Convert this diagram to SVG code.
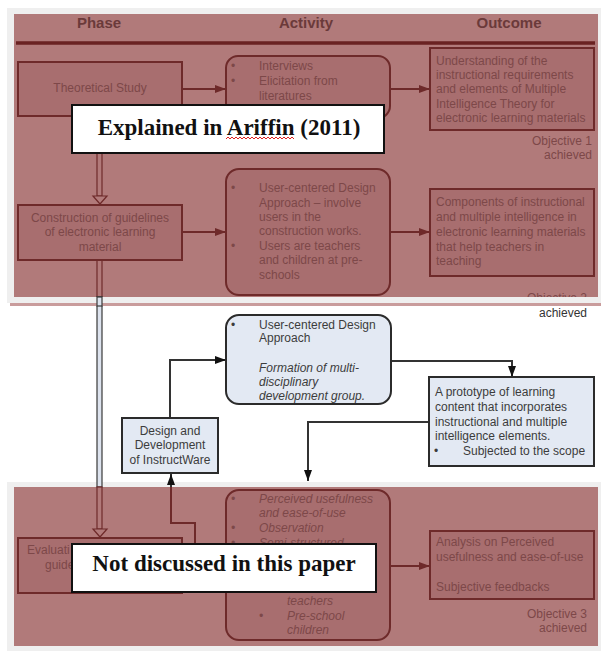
<svg xmlns="http://www.w3.org/2000/svg" width="601" height="651" viewBox="0 0 601 651">
<defs>
<style>
.band{fill:#b17a7a}
.gray{fill:#efefef}
.rbox{fill:#a86e6f;stroke:#6e2a2a;stroke-width:2}
.t{font-family:"Liberation Sans",Arial,sans-serif;font-size:12px;fill:#7d4849}
.ti{font-family:"Liberation Sans",Arial,sans-serif;font-size:12px;fill:#7d4849;font-style:italic}
.c{text-anchor:middle}
.r{text-anchor:end}
.hd{font-family:"Liberation Sans",Arial,sans-serif;font-size:15px;font-weight:bold;fill:#6b3a3a;text-anchor:middle}
.bbox{fill:#e3e9f3;stroke:#2b2b2b;stroke-width:2}
.bt{font-family:"Liberation Sans",Arial,sans-serif;font-size:12px;fill:#3c3c3c}
.bti{font-family:"Liberation Sans",Arial,sans-serif;font-size:12px;fill:#3c3c3c;font-style:italic}
.rc{fill:none;stroke:#6e2a2a;stroke-width:2}
.bc{fill:none;stroke:#333;stroke-width:2}
.ov{fill:#fff;stroke:#111;stroke-width:2}
.ot{font-family:"Liberation Serif","Times New Roman",serif;font-size:23px;font-weight:bold;fill:#111;text-anchor:middle}
</style>
<marker id="ar" markerUnits="userSpaceOnUse" markerWidth="12" markerHeight="10" refX="11" refY="5" orient="auto"><path d="M0,1 L11,5 L0,9 Z" fill="#6e2a2a"/></marker>
<marker id="ab" markerUnits="userSpaceOnUse" markerWidth="12" markerHeight="10" refX="11" refY="5" orient="auto"><path d="M0,1 L11,5 L0,9 Z" fill="#111"/></marker>
</defs>

<rect x="0" y="0" width="601" height="651" fill="#fff"/>
<rect class="gray" x="7" y="8" width="594" height="295"/>
<rect class="band" x="14" y="14" width="584" height="283"/>
<rect class="gray" x="7" y="482" width="594" height="169"/>
<rect class="band" x="14" y="487" width="584" height="159"/>

<g id="header">
<text class="hd" x="99" y="28">Phase</text>
<text class="hd" x="306" y="28">Activity</text>
<text class="hd" x="509" y="28">Outcome</text>
<line x1="16" y1="43" x2="595" y2="43" stroke="#6a2222" stroke-width="3.5"/>
</g>

<g id="connectors">
<rect x="97" y="116" width="5" height="80" fill="#b17a7a" stroke="#6e2a2a" stroke-width="1.2"/>
<polygon points="97,196 93,196 100,204 107,196 102,196" fill="#b17a7a" stroke="#6e2a2a" stroke-width="1.2"/>
<rect x="97" y="260" width="5" height="37" fill="#b17a7a" stroke="#6e2a2a" stroke-width="1.2"/>
<rect x="97" y="297" width="5" height="190" fill="#dde3ee" stroke="#3a3a3a" stroke-width="1.2"/>
<rect x="97" y="487" width="5" height="42" fill="#b17a7a" stroke="#6e2a2a" stroke-width="1.2"/>
<polygon points="97,529 93,529 100,537 107,529 102,529" fill="#b17a7a" stroke="#6e2a2a" stroke-width="1.2"/>
<path class="rc" d="M182,89 H226" marker-end="url(#ar)"/>
<path class="rc" d="M390,89 H430" marker-end="url(#ar)"/>
<path class="rc" d="M182,232 H226" marker-end="url(#ar)"/>
<path class="rc" d="M390,232 H430" marker-end="url(#ar)"/>
<path class="rc" d="M182,565 H226" marker-end="url(#ar)"/>
<path class="rc" d="M390,566 H430" marker-end="url(#ar)"/>
<path class="rc" d="M226,560 H195 V523 H171 V487"/>
<path class="bc" d="M171,487 V474" marker-end="url(#ab)"/>
<path class="bc" d="M170,418 V360 H226" marker-end="url(#ab)"/>
<path class="bc" d="M391,361 H512 V377" marker-end="url(#ab)"/>
<path class="bc" d="M429,422 H308 V481" marker-end="url(#ab)"/>
</g>

<g id="theoretical-study">
<rect class="rbox" x="18" y="62" width="164" height="54"/>
<text class="t c" x="100" y="92">Theoretical Study</text>
</g>

<g id="activity-1">
<rect class="rbox" x="226" y="56" width="164" height="62" rx="12"/>
<text class="t" x="231" y="70">•</text>
<text class="t" x="259" y="70">Interviews</text>
<text class="t" x="231" y="85">•</text>
<text class="t" x="259" y="85">Elicitation from</text>
<text class="t" x="259" y="100">literatures</text>
</g>

<g id="outcome-1">
<rect class="rbox" x="430" y="48" width="164" height="82"/>
<text class="t" x="436" y="65">Understanding of the</text>
<text class="t" x="436" y="79">instructional requirements</text>
<text class="t" x="436" y="93">and elements of Multiple</text>
<text class="t" x="436" y="108">Intelligence Theory for</text>
<text class="t" x="436" y="122">electronic learning materials</text>
<text class="t r" x="592" y="145">Objective 1</text>
<text class="t r" x="592" y="159">achieved</text>
</g>

<g id="construction">
<rect class="rbox" x="18" y="205" width="164" height="55"/>
<text class="t c" x="100" y="222">Construction of guidelines</text>
<text class="t c" x="100" y="236">of electronic learning</text>
<text class="t c" x="100" y="251">material</text>
</g>

<g id="activity-2">
<rect class="rbox" x="226" y="169" width="164" height="126" rx="13"/>
<text class="t" x="231" y="192">•</text>
<text class="t" x="259" y="192">User-centered Design</text>
<text class="t" x="259" y="207">Approach – involve</text>
<text class="t" x="259" y="221">users in the</text>
<text class="t" x="259" y="235">construction works.</text>
<text class="t" x="231" y="250">•</text>
<text class="t" x="259" y="250">Users are teachers</text>
<text class="t" x="259" y="264">and children at pre-</text>
<text class="t" x="259" y="279">schools</text>
</g>

<g id="outcome-2">
<rect class="rbox" x="430" y="189" width="164" height="87"/>
<text class="t" x="436" y="206">Components of instructional</text>
<text class="t" x="436" y="221">and multiple intelligence in</text>
<text class="t" x="436" y="236">electronic learning materials</text>
<text class="t" x="436" y="251">that help teachers in</text>
<text class="t" x="436" y="265">teaching</text>
<text class="t r" x="587" y="302">Objective 2</text>
</g>

<rect class="gray" x="7" y="297" width="594" height="6"/>
<rect x="10" y="303" width="591" height="3" fill="#c99c9c"/>
<rect x="97" y="297" width="5" height="9" fill="#dde3ee" stroke="#3a3a3a" stroke-width="1.2"/>
<text class="t r" x="587" y="317" style="fill:#333">achieved</text>

<g id="ucd-middle">
<rect class="bbox" x="226" y="315" width="165" height="89" rx="13"/>
<text class="bt" x="231" y="329">•</text>
<text class="bt" x="259" y="329">User-centered Design</text>
<text class="bt" x="259" y="342">Approach</text>
<text class="bti" x="259" y="372">Formation of multi-</text>
<text class="bti" x="259" y="386">disciplinary</text>
<text class="bti" x="259" y="400">development group.</text>
</g>

<g id="design-development">
<rect class="bbox" x="122" y="418" width="96" height="55"/>
<text class="bt c" x="170" y="435">Design and</text>
<text class="bt c" x="170" y="449">Development</text>
<text class="bt c" x="170" y="464">of InstructWare</text>
</g>

<g id="prototype">
<rect class="bbox" x="429" y="377" width="165" height="89"/>
<text class="bt" x="435" y="396">A prototype of learning</text>
<text class="bt" x="435" y="411">content that incorporates</text>
<text class="bt" x="435" y="426">instructional and multiple</text>
<text class="bt" x="435" y="440">intelligence elements.</text>
<text class="bt" x="434" y="455">•</text>
<text class="bt" x="463" y="455">Subjected to the scope</text>
</g>

<g id="evaluation">
<rect class="rbox" x="18" y="538" width="164" height="55"/>
<text class="t" x="27" y="554">Evaluati</text>
<text class="t" x="45" y="569">guide</text>
</g>

<g id="activity-3">
<rect class="rbox" x="226" y="490" width="164" height="150" rx="13"/>
<text class="ti" x="231" y="503">•</text>
<text class="ti" x="259" y="503">Perceived usefulness</text>
<text class="ti" x="259" y="517">and ease-of-use</text>
<text class="ti" x="231" y="532">•</text>
<text class="ti" x="259" y="532">Observation</text>
<text class="ti" x="231" y="547">•</text>
<text class="ti" x="259" y="547">Semi-structured</text>
<text class="ti" x="287" y="605">teachers</text>
<text class="ti" x="259" y="620">•</text>
<text class="ti" x="287" y="620">Pre-school</text>
<text class="ti" x="287" y="634">children</text>
</g>

<g id="outcome-3">
<rect class="rbox" x="430" y="531" width="164" height="68"/>
<text class="t" x="436" y="546">Analysis on Perceived</text>
<text class="t" x="436" y="561">usefulness and ease-of-use</text>
<text class="t" x="436" y="591">Subjective feedbacks</text>
<text class="t r" x="587" y="618">Objective 3</text>
<text class="t r" x="587" y="632">achieved</text>
</g>

<g id="note-top">
<rect class="ov" x="72" y="105" width="312" height="48"/>
<text class="ot" x="229" y="135">Explained in Ariffin (2011)</text>
<path d="M226,139 l2,-2 l2,2 l2,-2 l2,2 l2,-2 l2,2 l2,-2 l2,2 l2,-2 l2,2 l2,-2 l2,2 l2,-2 l2,2 l2,-2 l2,2 l2,-2 l2,2 l2,-2 l2,2 l2,-2 l2,2 l2,-2 l2,2 l2,-2 l2,2 l2,-2 l2,2 l2,-2 l2,2 l2,-2 l2,2 l2,-2 l2,2" fill="none" stroke="#e02020" stroke-width="1"/>
</g>

<g id="note-bottom">
<rect class="ov" x="72" y="544" width="304" height="48"/>
<text class="ot" x="224" y="571">Not discussed in this paper</text>
</g>
</svg>
